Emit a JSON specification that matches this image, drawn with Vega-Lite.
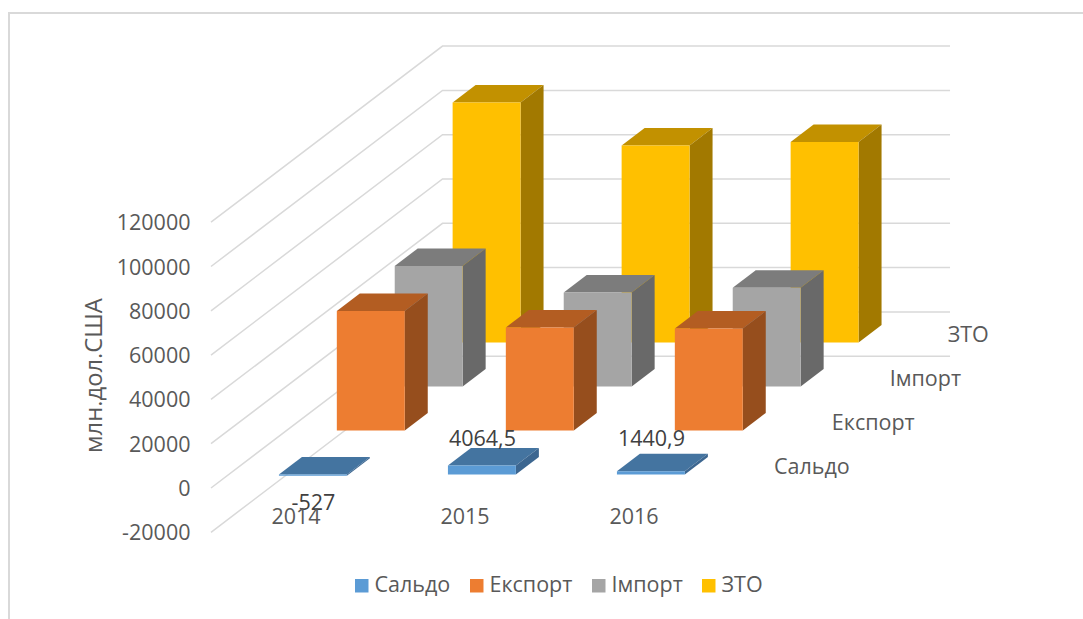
{
"$schema":"https://vega.github.io/schema/vega-lite/v6.json",
"width":1074,"height":606,
"padding":{"left":9,"top":13,"right":0,"bottom":0},
"autosize":{"type":"none"},
"background":"white",
"config":{"view":{"stroke":null},"font":"Open Sans"},
"datasets":{
"bars":[
{"year":2014,"series":"ЗТО","value":108327},
{"year":2015,"series":"ЗТО","value":88935},
{"year":2016,"series":"ЗТО","value":90559},
{"year":2014,"series":"Імпорт","value":54427},
{"year":2015,"series":"Імпорт","value":42435},
{"year":2016,"series":"Імпорт","value":44559},
{"year":2014,"series":"Експорт","value":53900},
{"year":2015,"series":"Експорт","value":46500},
{"year":2016,"series":"Експорт","value":46000},
{"year":2014,"series":"Сальдо","value":-527},
{"year":2015,"series":"Сальдо","value":4064.5},
{"year":2016,"series":"Сальдо","value":1440.9}
],
"grid":[{"v":-20000},{"v":0},{"v":20000},{"v":40000},{"v":60000},{"v":80000},{"v":100000},{"v":120000}]
},
"encoding":{
"x":{"field":"px","type":"quantitative","scale":{"domain":[-1.6012,4.7538],"nice":false,"zero":false},"axis":null},
"y":{"field":"py","type":"quantitative","scale":{"domain":[-59142,214447],"nice":false,"zero":false},
"axis":{"orient":"left","offset":-181,"values":[-20000,0,20000,40000,60000,80000,100000,120000],"labelExpr":"''+datum.value","domain":false,"ticks":false,"grid":false,"labelPadding":0,"labelOffset":1.5,"labelFontSize":21.5,"labelColor":"#595959","labelOverlap":false,"labelBound":false,"labelFlush":false,"title":"млн.дол.США","titleFontSize":23.8,"titleColor":"#595959","titleFontWeight":"normal","titleAngle":-90,"titleBaseline":"middle","titleAlign":"center","titleX":-96,"titleY":362}}
},
"layer":[
{"data":{"name":"grid"},
"transform":[{"filter":"datum.v==0"},{"calculate":"[[4.7538,214447],[-1.6012,214447],[-1.6012,-59142]]","as":"pt"},{"flatten":["pt"]},{"calculate":"datum.pt[0]","as":"px"},{"calculate":"datum.pt[1]","as":"py"}],
"mark":{"type":"line","color":"#d9d9d9","strokeWidth":2,"clip":false},
"encoding":{"order":{"value":null}}},
{"data":{"name":"grid"},
"transform":[{"calculate":"[[-0.406,0],[0.964,79500],[3.967,79500]]","as":"pt"},{"flatten":["pt"]},{"calculate":"datum.pt[0]","as":"px"},{"calculate":"datum.v+datum.pt[1]","as":"py"}],
"mark":{"type":"line","color":"#d9d9d9","strokeWidth":1.5},
"encoding":{"detail":{"field":"v","type":"quantitative"}}},
{"data":{"name":"bars"},
"transform":[
{"calculate":"indexof(['Сальдо','Експорт','Імпорт','ЗТО'],datum.series)","as":"s"},
{"calculate":"datum.year-2014-0.004+datum.s*0.3426","as":"x0"},
{"calculate":"6095+datum.s*19864+max(datum.value,0)","as":"top"},
{"calculate":"6095+datum.s*19864+min(datum.value,0)","as":"bot"},
{"calculate":"['top','side','front']","as":"face"},
{"flatten":["face"]},
{"calculate":"datum.face=='top'?[0,0.136,0.402,0.538]:datum.face=='side'?[0.402,0.538]:[0,0.402]","as":"u"},
{"flatten":["u"]},
{"calculate":"datum.x0+datum.u","as":"px"},
{"calculate":"datum.face=='front'?datum.top:datum.face=='side'?datum.top+7900*(datum.u-0.402)/0.136:datum.top+7900*min(datum.u,0.136)/0.136","as":"py"},
{"calculate":"datum.face=='front'?datum.bot:datum.face=='side'?datum.bot+7900*(datum.u-0.402)/0.136:datum.top+7900*max(datum.u-0.402,0)/0.136","as":"py2"},
{"calculate":"datum.year+datum.series+datum.face","as":"piece"},
{"calculate":"datum.face=='front'?datum.series:datum.series+' '+datum.face","as":"shade"}
],
"mark":{"type":"area","orient":"vertical","interpolate":"linear","opacity":1},
"encoding":{
"y2":{"field":"py2"},
"detail":{"field":"piece","type":"nominal"},
"color":{"field":"shade","type":"nominal",
"scale":{"domain":["Сальдо","Експорт","Імпорт","ЗТО","Сальдо top","Експорт top","Імпорт top","ЗТО top","Сальдо side","Експорт side","Імпорт side","ЗТО side"],
"range":["#5b9bd5","#ed7d31","#a5a5a5","#ffc000","#4474a0","#b35d22","#7c7c7c","#c29100","#3c6690","#964e1d","#696969","#a27900"]},
"legend":{"values":["Сальдо","Експорт","Імпорт","ЗТО"],"orient":"none","legendX":342,"legendY":562,"direction":"horizontal","title":null,"symbolType":"square","symbolSize":182,"symbolStrokeWidth":0,"labelFontSize":21.5,"labelColor":"#595959","labelOffset":2,"columnPadding":15,"columns":4,"gridAlign":"none"}}
}},
{"data":{"name":"bars"},
"transform":[{"filter":"datum.series=='Сальдо'"},{"calculate":"datum.year-2014+0.2","as":"px"},{"calculate":"datum.value<0?-6770:22120","as":"py"},{"calculate":"replace(''+datum.value,'.',',')","as":"txt"}],
"mark":{"type":"text","fontSize":21.5,"color":"#404040","align":"center","baseline":"middle","dy":1},
"encoding":{"text":{"field":"txt"}}},
{"data":{"name":"bars"},
"transform":[{"filter":"datum.series=='Сальдо'"},{"calculate":"datum.year-2014+0.097","as":"px"},{"calculate":"-13230","as":"py"},{"calculate":"''+datum.year","as":"txt"}],
"mark":{"type":"text","fontSize":21.5,"color":"#595959","align":"center","baseline":"middle","dy":1},
"encoding":{"text":{"field":"txt"}}},
{"data":{"name":"bars"},
"transform":[{"filter":"datum.year==2014"},{"calculate":"indexof(['Сальдо','Експорт','Імпорт','ЗТО'],datum.series)","as":"s"},{"calculate":"2.925+datum.s*0.3426","as":"px"},{"calculate":"9616+datum.s*19950","as":"py"}],
"mark":{"type":"text","fontSize":21.5,"color":"#595959","align":"left","baseline":"middle","dy":1.5},
"encoding":{"text":{"field":"series"}}}
]
}
